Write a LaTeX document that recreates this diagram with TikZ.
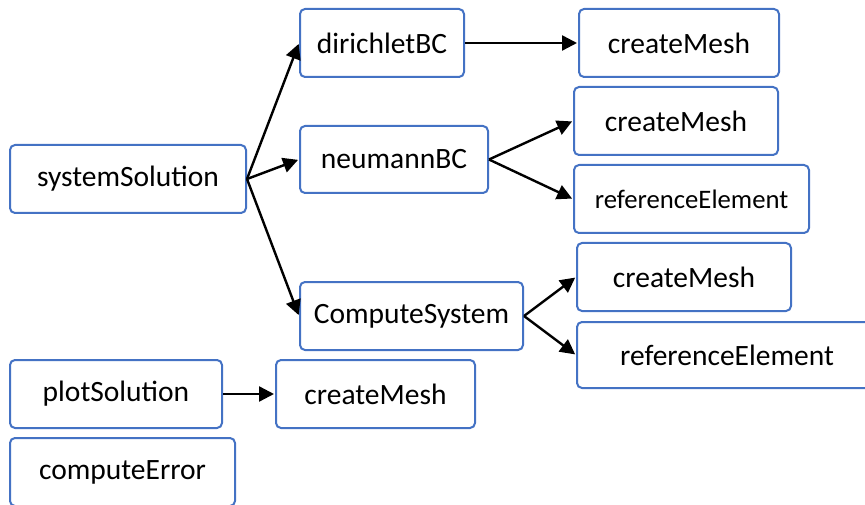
\documentclass[tikz,border=0pt]{standalone}
\usepackage{fontspec}
\setmainfont{Carlito}
\usetikzlibrary{arrows.meta}
\definecolor{boxblue}{HTML}{4472C4}
\begin{document}
\begin{tikzpicture}[x=1pt,y=-1pt,
  fbox/.style={draw=boxblue, line width=2pt, rounded corners=5pt, fill=white,
    inner sep=0pt, minimum height=68pt, font=\fontsize{29.5}{32}\selectfont, text=black},
  conn/.style={line width=2.4pt, -{Triangle[length=15pt,width=15pt]}, shorten >=1pt}]
\useasboundingbox (0,0) rectangle (865,505);
\node[fbox, minimum width=236pt] (sys) at (128,179) {systemSolution};
\node[fbox, minimum width=164pt] (dir) at (382,43) {dirichletBC};
\node[fbox, minimum width=188pt, minimum height=67pt] (neu) at (394,159.5) {neumannBC};
\node[fbox, minimum width=223pt] (comp) at (411.5,316) {ComputeSystem};
\node[fbox, minimum width=200pt] (cma) at (679,43) {createMesh};
\node[fbox, minimum width=204pt] (cmb) at (676,121) {createMesh};
\node[fbox, minimum width=235pt, font=\fontsize{26.7}{29}\selectfont] (rea) at (691.5,199) {referenceElement};
\node[fbox, minimum width=214pt] (cmc) at (684,277) {createMesh};
\node[fbox, minimum width=300pt, minimum height=66pt] (reb) at (727,355) {referenceElement};
\node[fbox, minimum width=212pt] (plot) at (116,394) {plotSolution};
\node[fbox, minimum width=199pt] (cmd) at (375.5,394) {createMesh};
\node[fbox, minimum width=225pt] (err) at (122.5,472) {computeError};
\draw[conn] (sys.east) -- (dir.west);
\draw[conn] (sys.east) -- (neu.west);
\draw[conn] (sys.east) -- (comp.west);
\draw[conn] (dir.east) -- (cma.west);
\draw[conn] (neu.east) -- (cmb.west);
\draw[conn] (neu.east) -- (rea.west);
\draw[conn] (comp.east) -- (cmc.west);
\draw[conn] (comp.east) -- (reb.west);
\draw[conn] (plot.east) -- (cmd.west);
\end{tikzpicture}
\end{document}
